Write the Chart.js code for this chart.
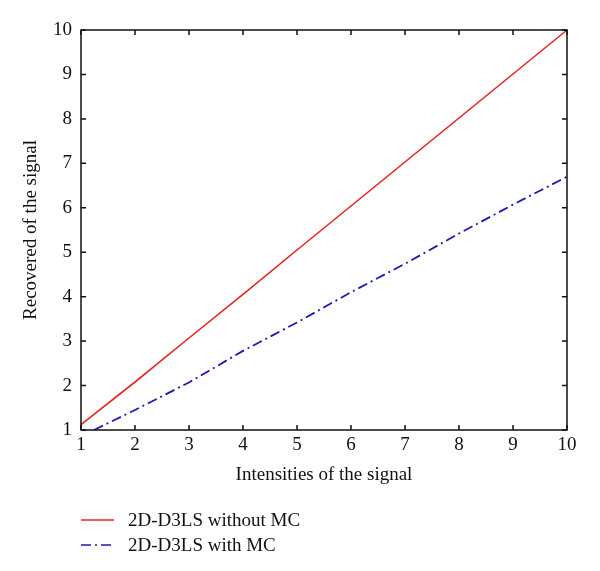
<!DOCTYPE html>
<html>
<head>
<meta charset="utf-8">
<script src="https://cdn.jsdelivr.net/npm/chart.js@4/dist/chart.umd.min.js"></script>
<style>
  body { margin: 0; background: #fff; }
  #wrap { position: relative; width: 600px; height: 571px; }
</style>
</head>
<body>
<div id="wrap"><canvas id="myChart"></canvas></div>
<script>
//-------------------------DATA-----------------------------------------------------

var seriesNames = ['2D-D3LS without MC', '2D-D3LS with MC'];

var redX = [1, 2, 3, 4, 5, 6, 7, 8, 9, 10];
var redY = [1.12, 2.08, 3.07, 4.05, 5.05, 6.04, 7.03, 8.02, 9.01, 10];

var blueX = [1.24, 2, 3, 4, 5, 6, 7, 8, 9, 10];
var blueY = [1.0, 1.45, 2.07, 2.78, 3.42, 4.1, 4.74, 5.42, 6.07, 6.7];

var xTicks = [1, 2, 3, 4, 5, 6, 7, 8, 9, 10];
var yTicks = [1, 2, 3, 4, 5, 6, 7, 8, 9, 10];

var colors = ['#e8231f', '#1a1ab4'];
var dashes = [[], [10, 4, 2, 4]];

//-------------------------BUILD CHART-----------------------------------------------

function toPoints(xs, ys) {
    var pts = [];
    for (let i = 0; i < xs.length; i++) {
        pts.push({x: xs[i], y: ys[i]});
    }
    return pts;
}

var serif = '"Liberation Serif", "Times New Roman", serif';

// box round the plot with ticks pointing inward on all four sides
var innerTicks = {
    id: 'innerTicks',
    afterDraw(chart) {
        var ctx = chart.ctx;
        var a = chart.chartArea;
        var xs = chart.scales.x, ys = chart.scales.y;
        var len = 5;
        ctx.save();
        ctx.strokeStyle = '#111';
        ctx.lineWidth = 1.5;
        ctx.strokeRect(a.left, a.top, a.right - a.left, a.bottom - a.top);
        ctx.beginPath();
        xTicks.forEach(function (v) {
            var px = xs.getPixelForValue(v);
            ctx.moveTo(px, a.bottom); ctx.lineTo(px, a.bottom - len);
            ctx.moveTo(px, a.top); ctx.lineTo(px, a.top + len);
        });
        yTicks.forEach(function (v) {
            var py = ys.getPixelForValue(v);
            ctx.moveTo(a.left, py); ctx.lineTo(a.left + len, py);
            ctx.moveTo(a.right, py); ctx.lineTo(a.right - len, py);
        });
        ctx.stroke();
        ctx.restore();
    }
};

// legend stacked in two rows under the x axis title
var stackedLegend = {
    id: 'stackedLegend',
    afterDraw(chart) {
        var ctx = chart.ctx;
        ctx.save();
        ctx.font = '19px ' + serif;
        ctx.textBaseline = 'middle';
        ctx.fillStyle = '#111';
        chart.data.datasets.forEach(function (ds, i) {
            var y = 520 + i * 25;
            ctx.strokeStyle = ds.borderColor;
            ctx.lineWidth = 1.6;
            ctx.setLineDash(ds.borderDash);
            ctx.beginPath();
            ctx.moveTo(81, y); ctx.lineTo(114, y);
            ctx.stroke();
            ctx.setLineDash([]);
            ctx.fillText(ds.label, 128, y + 1);
        });
        ctx.restore();
    }
};

var ctx = document.getElementById('myChart').getContext('2d');
var chart = new Chart(ctx, {
    type: 'line',
    data: {
        datasets: [{
            label: seriesNames[0],
            data: toPoints(redX, redY),
            borderColor: colors[0],
            borderWidth: 1.6,
            borderDash: dashes[0],
            pointRadius: 0,
            tension: 0
        }, {
            label: seriesNames[1],
            data: toPoints(blueX, blueY),
            borderColor: colors[1],
            borderWidth: 1.8,
            borderDash: dashes[1],
            pointRadius: 0,
            tension: 0
        }]
    },
    options: {
        responsive: true,
        maintainAspectRatio: false,
        animation: false,
        clip: false,
        layout: { padding: { left: 0, top: 30, right: 33, bottom: 76 } },
        plugins: { legend: { display: false }, tooltip: { enabled: false } },
        scales: {
            x: {
                type: 'linear',
                min: 1, max: 10,
                afterBuildTicks: function (s) { s.ticks = xTicks.map(function (v) { return {value: v}; }); },
                afterFit: function (s) { s.height = 65; },
                grid: { display: false, drawTicks: false },
                border: { display: false },
                ticks: { color: '#111', padding: 4, maxRotation: 0, font: { family: serif, size: 19 } },
                title: { display: true, text: 'Intensities of the signal', color: '#111',
                         padding: { top: 0, bottom: 9 }, font: { family: serif, size: 19 } }
            },
            y: {
                type: 'linear',
                min: 1, max: 10,
                afterBuildTicks: function (s) { s.ticks = yTicks.map(function (v) { return {value: v}; }); },
                afterFit: function (s) { s.width = 81; },
                grid: { display: false, drawTicks: false },
                border: { display: false },
                ticks: { color: '#111', padding: 9, font: { family: serif, size: 19 } },
                title: { display: true, text: 'Recovered of the signal', color: '#111',
                         padding: { top: 20, bottom: 0 }, font: { family: serif, size: 19 } }
            }
        }
    },
    plugins: [innerTicks, stackedLegend]
});
</script>
</body>
</html>
